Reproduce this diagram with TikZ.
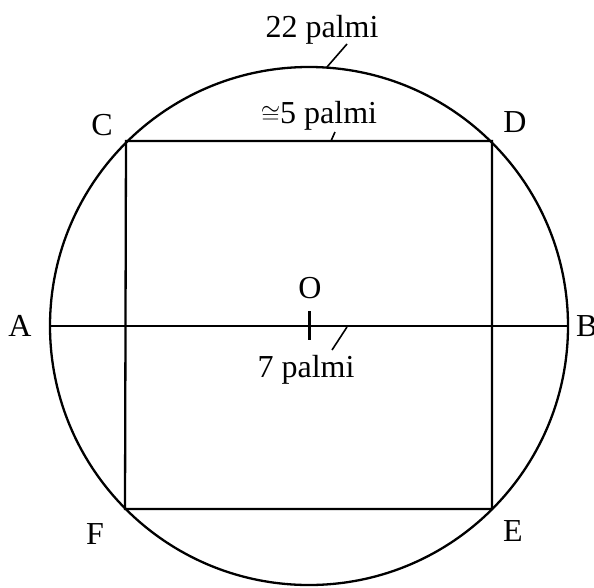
\documentclass[tikz,border=0pt]{standalone}
\usepackage{fontspec}
\usepackage{amssymb}
\setmainfont{Liberation Serif}
\begin{document}
\begin{tikzpicture}[x=1pt,y=-1pt,
  ln/.style={line width=2.3pt,black},
  lead/.style={line width=1.6pt,black},
  lbl/.style={anchor=base,inner sep=0pt,font=\fontsize{32}{36}\selectfont}]
\useasboundingbox (0,0) rectangle (594,587);
% circle
\coordinate (O) at (309,326);
\draw[ln] (O) circle[radius=259];
% points
\coordinate (A) at (50,326);
\coordinate (B) at (568,326);
\coordinate (C) at (126,141);
\coordinate (D) at (492,141);
\coordinate (E) at (492,509);
\coordinate (F) at (125,509);
% rectangle and diameter
\draw[ln] (C) -- (D) -- (E) -- (F) -- cycle;
\draw[ln] (A) -- (B);
% tick at O
\coordinate (t1) at (309,311);
\coordinate (t2) at (309,340);
\draw[line width=3pt] (t1) -- (t2);
% labels
\node[lbl] (lA) at (20,336) {A};
\node[lbl,anchor=base west] (lB) at (576,336) {B};
\node[lbl] (lC) at (102,135) {C};
\node[lbl] (lD) at (515,132) {D};
\node[lbl] (lE) at (513,541) {E};
\node[lbl] (lF) at (95,544) {F};
\node[lbl] (lO) at (310,298) {O};
\node[lbl] (l22) at (322,37) {22 palmi};
\node[lbl] (l5) at (319,123) {$\cong$5 palmi};
\node[lbl] (l7) at (306,377) {7 palmi};
% leaders
\coordinate (a1) at (347,44);
\coordinate (a2) at (327,67);
\draw[lead] (a1) -- (a2);
\coordinate (b1) at (335,132);
\coordinate (b2) at (331,141);
\draw[lead] (b1) -- (b2);
\coordinate (c1) at (347,327);
\coordinate (c2) at (332,350);
\draw[lead] (c1) -- (c2);
\end{tikzpicture}
\end{document}
